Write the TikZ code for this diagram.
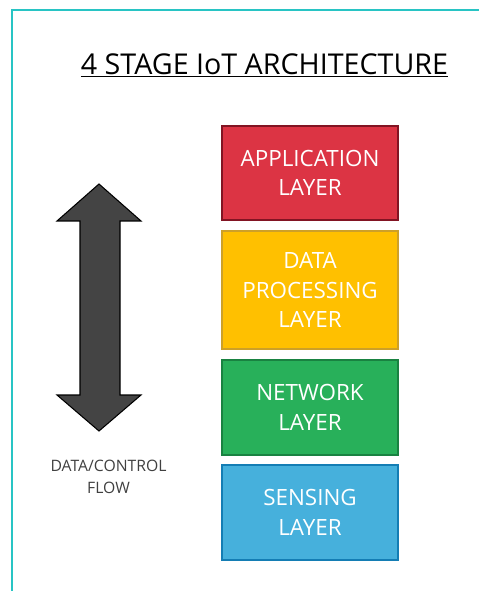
\documentclass[tikz,border=0pt]{standalone}
\usepackage{fontspec}
\setmainfont{Open Sans}
\definecolor{frame}{RGB}{40,196,196}
\definecolor{appf}{RGB}{220,52,68}
\definecolor{appd}{RGB}{130,20,35}
\definecolor{dataf}{RGB}{255,192,0}
\definecolor{datad}{RGB}{205,160,40}
\definecolor{netf}{RGB}{40,176,90}
\definecolor{netd}{RGB}{25,130,65}
\definecolor{senf}{RGB}{70,176,220}
\definecolor{send}{RGB}{20,125,180}
\definecolor{arrowf}{RGB}{68,68,68}
\definecolor{flowtxt}{RGB}{64,64,64}
\newlength{\px}
\setlength{\px}{0.75pt}
\tikzset{
  layer/.style={draw, line width=1.2pt, minimum width=176\px, text=white, align=center,
    font=\fontsize{16.8}{22}\selectfont, inner sep=0pt},
}
\begin{document}
\begin{tikzpicture}[x=0.75pt,y=-0.75pt]
\useasboundingbox (0,0) rectangle (479,591);
\draw[frame, line width=1.6pt] (12,591) -- (12,10) -- (479,10);
\node (title) at (264.5,65.5) {\fontsize{21.5}{25}\selectfont\underline{4 STAGE IoT ARCHITECTURE}};
\node[layer, fill=appf, draw=appd, minimum height=94\px] (app) at (310,173) {APPLICATION\\LAYER};
\node[layer, fill=dataf, draw=datad, minimum height=118\px] (data) at (310,290) {DATA\\PROCESSING\\LAYER};
\node[layer, fill=netf, draw=netd, minimum height=95\px] (net) at (310,407.5) {NETWORK\\LAYER};
\node[layer, fill=senf, draw=send, minimum height=95\px] (sen) at (310,512.5) {SENSING\\LAYER};
\draw[fill=arrowf, draw=black, line width=0.8pt, line join=miter]
  (99,184) -- (141,221) -- (120,221) -- (120,395) -- (141,395) -- (99,431)
  -- (57,395) -- (80,395) -- (80,221) -- (57,221) -- cycle;
\node[text=flowtxt, align=center, font=\fontsize{11.8}{17}\selectfont] (flow) at (108.5,477) {DATA/CONTROL\\FLOW};
\end{tikzpicture}
\end{document}
